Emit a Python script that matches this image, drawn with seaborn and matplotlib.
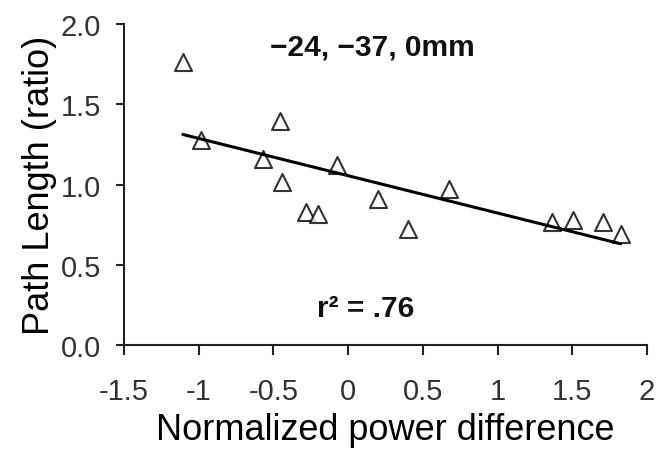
import matplotlib
matplotlib.use("Agg")
import matplotlib.pyplot as plt
import seaborn as sns
import pandas as pd

# Data
power_diff = [-1.106, -0.983, -0.569, -0.457, -0.444, -0.280, -0.204, -0.076,
              0.197, 0.402, 0.677, 1.361, 1.507, 1.706, 1.824]
path_ratio = [1.764, 1.280, 1.158, 1.394, 1.014, 0.827, 0.819, 1.123,
              0.912, 0.723, 0.974, 0.768, 0.778, 0.765, 0.694]
x_ticks = [-1.5, -1, -0.5, 0, 0.5, 1, 1.5, 2]
x_tick_labels = ["-1.5", "-1", "-0.5", "0", "0.5", "1", "1.5", "2"]
y_ticks = [0.0, 0.5, 1.0, 1.5, 2.0]
y_tick_labels = ["0.0", "0.5", "1.0", "1.5", "2.0"]
title_text = "\u221224, \u221237, 0mm"
r2_text = "r\u00b2 = .76"

df = pd.DataFrame({"x": power_diff, "y": path_ratio})

sns.set_style("ticks")
plt.rcParams["font.family"] = ["Liberation Sans", "DejaVu Sans"]

fig = plt.figure(figsize=(6.56, 4.52), dpi=100)
ax = fig.add_axes([0.189, 0.2345, 0.7973, 0.7102])

sns.regplot(data=df, x="x", y="y", ax=ax, ci=None, marker="^", color="black",
            scatter_kws={"s": 150, "facecolors": "white", "edgecolors": "black",
                         "linewidths": 1.5, "zorder": 2},
            line_kws={"linewidth": 2.2, "color": "black", "zorder": 3})

ax.set_xlim(-1.5, 2)
ax.set_ylim(0, 2)
ax.set_xticks(x_ticks)
ax.set_xticklabels(x_tick_labels)
ax.set_yticks(y_ticks)
ax.set_yticklabels(y_tick_labels)

sns.despine(ax=ax)
for s in ["left", "bottom"]:
    ax.spines[s].set_linewidth(1.5)
    ax.spines[s].set_color("#222222")

ax.tick_params(axis="both", direction="out", width=1.5,
               color="#222222", labelcolor="#333333", labelsize=21)
ax.tick_params(axis="x", length=7, pad=16)
ax.tick_params(axis="y", length=5.5, pad=11)

ax.set_xlabel("Normalized power difference", fontsize=26, color="black", labelpad=5)
ax.set_ylabel("Path Length (ratio)", fontsize=26, color="black", labelpad=3)

ax.text(0.164, 1.857, title_text, fontsize=21.5, fontweight="bold",
        ha="center", va="center", color="#111111")
ax.text(0.12, 0.23, r2_text, fontsize=21.5, fontweight="bold",
        ha="center", va="center", color="#111111")

fig.savefig("out.png", dpi=100)
